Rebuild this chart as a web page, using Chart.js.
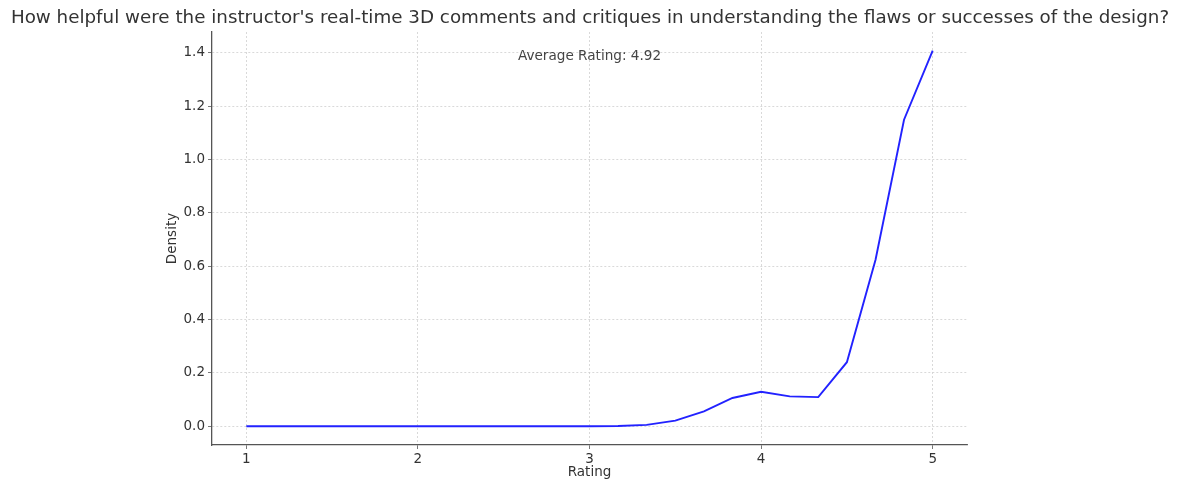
<!DOCTYPE html>
<html>
<head>
<meta charset="utf-8">
<script src="https://cdn.jsdelivr.net/npm/chart.js@4"></script>
<style>
  html, body { margin: 0; padding: 0; background: #fff; }
  #wrap { width: 1177px; height: 483px; }
</style>
</head>
<body>
<div id="wrap"><canvas id="chart"></canvas></div>
<script>
var chartTitle = "How helpful were the instructor's real-time 3D comments and critiques in understanding the flaws or successes of the design?";
var averageLabel = 'Average Rating: 4.92';

var ratings = [1, 1.167, 1.333, 1.5, 1.667, 1.833, 2, 2.167, 2.333, 2.5, 2.667, 2.833,
               3, 3.167, 3.333, 3.5, 3.667, 3.833, 4, 4.167, 4.333, 4.5, 4.667, 4.833, 5];
var density = [0, 0, 0, 0, 0, 0, 0, 0, 0, 0, 0, 0,
               0, 0.001, 0.005, 0.021, 0.056, 0.106, 0.129, 0.112, 0.109, 0.24, 0.624, 1.149, 1.408];

var xTicks = [1, 2, 3, 4, 5];
var yTicks = [0, 0.2, 0.4, 0.6, 0.8, 1.0, 1.2, 1.4];

var points = [];
for (var i = 0; i < ratings.length; i++) {
  points.push({ x: ratings[i], y: density[i] });
}

// title + annotation text
var textPlugin = {
  id: 'texts',
  afterDraw: function(c) {
    var ctx = c.ctx;
    ctx.save();
    ctx.fillStyle = '#333';
    ctx.font = '18.3px "DejaVu Sans"';
    ctx.textAlign = 'center';
    ctx.textBaseline = 'middle';
    ctx.fillText(chartTitle, 590, 18);
    ctx.fillStyle = '#444';
    ctx.font = '13.6px "DejaVu Sans"';
    ctx.fillText(averageLabel, c.scales.x.getPixelForValue(3), c.scales.y.getPixelForValue(1.385));
    ctx.restore();
  }
};

var ctx = document.getElementById('chart').getContext('2d');
var chart = new Chart(ctx, {
  type: 'scatter',
  data: {
    datasets: [{
      data: points,
      showLine: true,
      borderColor: '#2222ff',
      borderWidth: 1.9,
      pointRadius: 0,
      tension: 0
    }]
  },
  options: {
    responsive: true,
    maintainAspectRatio: false,
    animation: false,
    layout: { padding: { left: 160, right: 210, top: 32, bottom: 0 } },
    plugins: {
      legend: { display: false },
      tooltip: { enabled: false }
    },
    scales: {
      x: {
        type: 'linear',
        min: 0.8,
        max: 5.2,
        afterFit: function(s) { s.height = 38; },
        afterBuildTicks: function(s) { s.ticks = xTicks.map(function(v) { return { value: v }; }); },
        ticks: { color: '#333', font: { family: 'DejaVu Sans', size: 13.5 }, padding: 2 },
        grid: { color: '#d0d0d0', tickColor: '#555', tickLength: 4, lineWidth: 0.8 },
        border: { display: true, color: '#555', width: 1.3, dash: [2, 2] },
        title: { display: true, text: 'Rating', color: '#333', font: { family: 'DejaVu Sans', size: 13.5 }, padding: { top: 2, bottom: 2 } }
      },
      y: {
        type: 'linear',
        min: -0.0704,
        max: 1.478,
        afterFit: function(s) { s.width = 52; },
        afterBuildTicks: function(s) { s.ticks = yTicks.map(function(v) { return { value: v }; }); },
        ticks: {
          color: '#333', font: { family: 'DejaVu Sans', size: 13.5 }, padding: 3,
          callback: function(v) { return Number(v).toFixed(1); }
        },
        grid: { color: '#d0d0d0', tickColor: '#555', tickLength: 4, lineWidth: 0.8 },
        border: { display: true, color: '#555', width: 1.3, dash: [2, 2] },
        title: { display: true, text: 'Density', color: '#333', font: { family: 'DejaVu Sans', size: 13.5 }, padding: { top: 4, bottom: 2 } }
      }
    }
  },
  plugins: [textPlugin]
});
</script>
</body>
</html>
